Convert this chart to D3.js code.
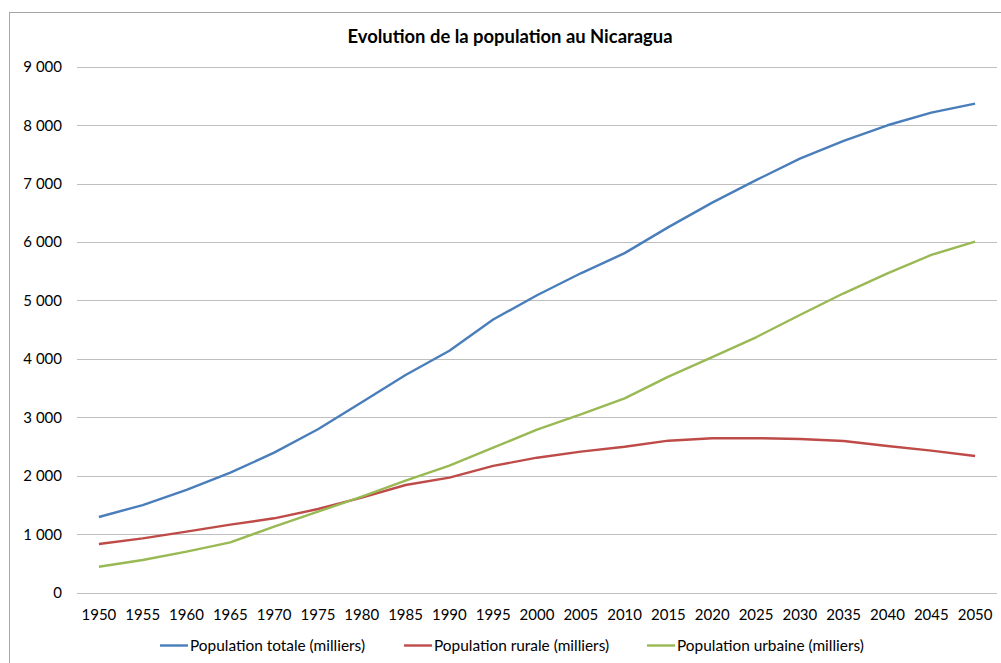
<!DOCTYPE html>
<html>
<head>
<meta charset="utf-8">
<script src="https://cdn.jsdelivr.net/npm/d3@7"></script>
<style>
  body { margin: 0; background: #fff; }
  svg { font-family: Lato, "Open Sans", sans-serif; }
  .grid line { stroke: #bfbfbf; stroke-width: 1; }
</style>
</head>
<body>
<script>
// years on the category axis
var years = ["1950","1955","1960","1965","1970","1975","1980","1985","1990","1995","2000",
             "2005","2010","2015","2020","2025","2030","2035","2040","2045","2050"];

// values in thousands
var total = [1295, 1500, 1760, 2053, 2396, 2796, 3260, 3725, 4140, 4675, 5090,
             5465, 5810, 6255, 6675, 7059, 7427, 7729, 7998, 8214, 8368];
var rural = [833, 930, 1044, 1165, 1273, 1432, 1626, 1843, 1968, 2170, 2310,
             2413, 2498, 2601, 2642, 2645, 2630, 2596, 2510, 2430, 2339];
var urban = [445, 560, 702, 862, 1130, 1386, 1643, 1917, 2173, 2481, 2790,
             3053, 3326, 3696, 4030, 4370, 4752, 5123, 5465, 5779, 6006];

var yTicks = [0, 1000, 2000, 3000, 4000, 5000, 6000, 7000, 8000, 9000];

var seriesNames = ["Population totale (milliers)", "Population rurale (milliers)", "Population urbaine (milliers)"];
var seriesColors = ["#4a7ebb", "#be4b48", "#98b954"];

var width = 1001, height = 663;
var margin = {top: 66.7, right: 4, bottom: 70.3, left: 77};

var svg = d3.select("body").append("svg")
    .attr("width", width)
    .attr("height", height);

// outer chart frame
svg.append("rect")
    .attr("x", 9.5).attr("y", 12.5)
    .attr("width", 1010).attr("height", 700)
    .attr("fill", "none")
    .attr("stroke", "#a6a6a6");

var x = d3.scalePoint().domain(years)
    .range([margin.left, width - margin.right])
    .padding(0.5);
var y = d3.scaleLinear().domain([0, 9000])
    .range([height - margin.bottom, margin.top]);

var fmt = d3.formatLocale({decimal: ",", thousands: " ", grouping: [3], currency: ["", ""]}).format(",d");

// gridlines
svg.append("g").attr("class", "grid")
  .selectAll("line")
  .data(yTicks)
  .enter().append("line")
    .attr("x1", margin.left).attr("x2", width - margin.right)
    .attr("y1", function(d) { return Math.round(y(d)) + 0.5; })
    .attr("y2", function(d) { return Math.round(y(d)) + 0.5; });

// y labels
svg.append("g")
  .selectAll("text")
  .data(yTicks)
  .enter().append("text")
    .attr("x", 62)
    .attr("y", function(d) { return y(d); })
    .attr("dy", "0.36em")
    .attr("text-anchor", "end")
    .attr("font-size", 15)
    .attr("fill", "#000")
    .text(function(d) { return fmt(d); });

// x labels
svg.append("g")
  .selectAll("text")
  .data(years)
  .enter().append("text")
    .attr("x", function(d) { return x(d); })
    .attr("y", 620)
    .attr("text-anchor", "middle")
    .attr("font-size", 15)
    .attr("fill", "#000")
    .text(function(d) { return d; });

// lines
var line = d3.line()
    .x(function(d, i) { return x(years[i]); })
    .y(function(d) { return y(d); });

[total, rural, urban].forEach(function(s, i) {
  svg.append("path")
      .datum(s)
      .attr("fill", "none")
      .attr("stroke", seriesColors[i])
      .attr("stroke-width", 2.4)
      .attr("stroke-linejoin", "round")
      .attr("d", line);
});

// title
svg.append("text")
    .attr("x", 510).attr("y", 43)
    .attr("text-anchor", "middle")
    .attr("font-size", 18.4)
    .attr("font-weight", "bold")
    .attr("fill", "#000")
    .text("Evolution de la population au Nicaragua");

// legend
var legendX = [160, 404, 647];
var legend = svg.append("g").selectAll("g")
    .data(seriesNames)
  .enter().append("g")
    .attr("transform", function(d, i) { return "translate(" + legendX[i] + ",0)"; });

legend.append("line")
    .attr("x1", 0).attr("x2", 28)
    .attr("y1", 645.5).attr("y2", 645.5)
    .attr("stroke", function(d, i) { return seriesColors[i]; })
    .attr("stroke-width", 2.4);

legend.append("text")
    .attr("x", 30).attr("y", 651)
    .attr("font-size", 15.4)
    .attr("fill", "#000")
    .text(function(d) { return d; });
</script>
</body>
</html>
